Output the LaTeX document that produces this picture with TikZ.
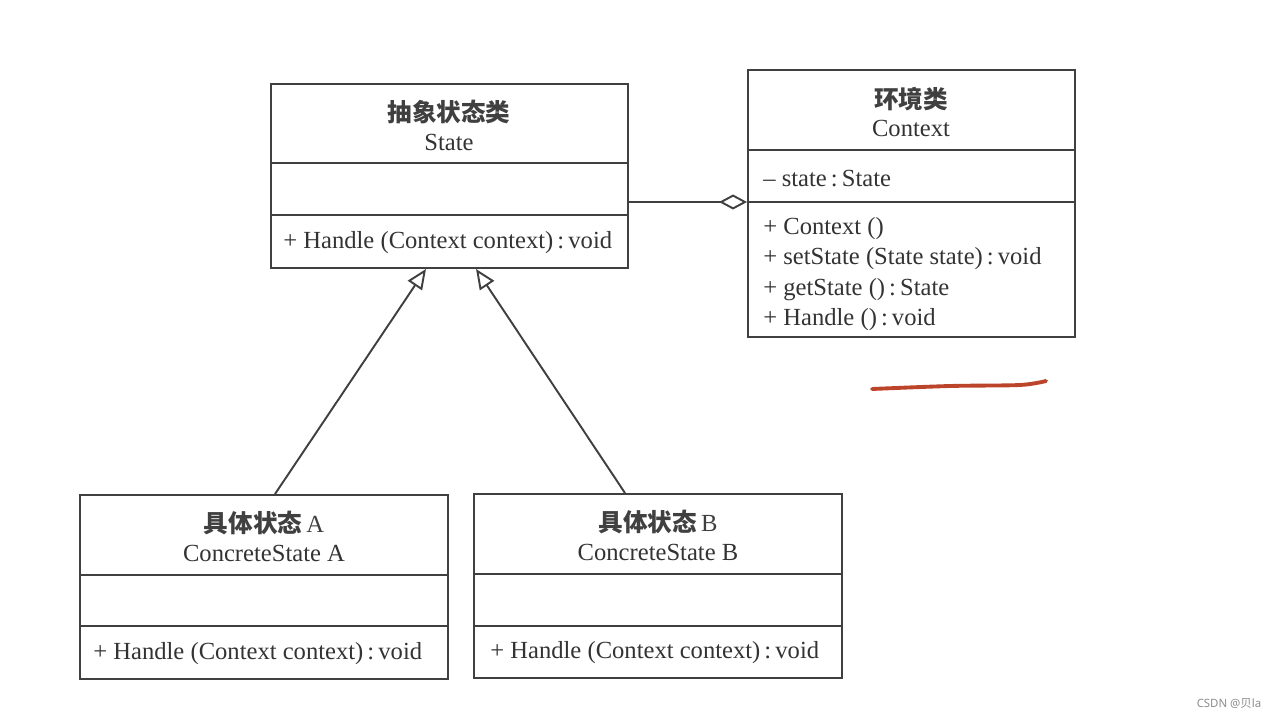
\documentclass[tikz,border=0pt]{standalone}
\usepackage{fontspec}
\setmainfont{Liberation Serif}
\newfontfamily\cjk{Noto Sans CJK SC}
\newfontfamily\marksans{Noto Sans}
\usetikzlibrary{arrows.meta, calc, fit}

\begin{document}
\begin{tikzpicture}[x=0.02cm, y=-0.02cm,
  classbox/.style={draw=black!75, line width=1.1pt, inner sep=0pt},
  divider/.style={draw=black!75, line width=1.1pt},
  cntext/.style={font=\cjk\bfseries\fontsize{14}{16}\selectfont, text=black!75, inner sep=0pt},
  entext/.style={font=\fontsize{14}{17.2}\selectfont, text=black!80, inner sep=0pt},
  link/.style={draw=black!75, line width=1.1pt}]

\useasboundingbox (0,0) rectangle (1275,719);
% Abstract state class
\node [classbox, fit={(271,84) (628,268)}] (state) {};
\draw [divider] (state.west |- 0,163) -- (state.east |- 0,163);
\draw [divider] (state.west |- 0,215) -- (state.east |- 0,215);
\node [cntext] (stateCN) at (449,112) {抽象状态类};
\node [entext] (stateEN) at (449,142) {State};
\node [entext, anchor=west] (stateOp) at (283,243)
  {+ Handle (Context context)\,:\,void};
% Context class
\node [classbox, fit={(748,70) (1075,337)}] (context) {};
\draw [divider] (context.west |- 0,150) -- (context.east |- 0,150);
\draw [divider] (context.west |- 0,202) -- (context.east |- 0,202);
\node [cntext] (contextCN) at (911,99) {环境类};
\node [entext] (contextEN) at (911,128) {Context};
\node [entext, anchor=west] (contextAttr) at (763,179) {-- state\,:\,State};
\node [entext, anchor=west, align=left] (contextOps) at (763,274)
  {+ Context ()\\+ setState (State state)\,:\,void\\
   + getState ()\,:\,State\\+ Handle ()\,:\,void};
% Concrete state A
\node [classbox, fit={(80,495) (448,679)}] (concA) {};
\draw [divider] (concA.west |- 0,575) -- (concA.east |- 0,575);
\draw [divider] (concA.west |- 0,626) -- (concA.east |- 0,626);
\node [cntext] (concACN) at (264,523) {具体状态\,{\normalfont\fontsize{14}{16}\selectfont A}};
\node [entext] (concAEN) at (264,553) {ConcreteState A};
\node [entext, anchor=west] (concAOp) at (93,654)
  {+ Handle (Context context)\,:\,void};
% Concrete state B
\node [classbox, fit={(474,494) (842,678)}] (concB) {};
\draw [divider] (concB.west |- 0,574) -- (concB.east |- 0,574);
\draw [divider] (concB.west |- 0,626) -- (concB.east |- 0,626);
\node [cntext] (concBCN) at (658,522) {具体状态\,{\normalfont\fontsize{14}{16}\selectfont B}};
\node [entext] (concBEN) at (658,552) {ConcreteState B};
\node [entext, anchor=west] (concBOp) at (490,653)
  {+ Handle (Context context)\,:\,void};
% Aggregation: context holds a state
\draw [link, -{Diamond[open, length=0.56cm, width=0.3cm]}]
  (state.east |- 0,202) -- (context.west |- 0,202);
% Generalisation arrows
\draw [link, -{Triangle[open, length=0.4cm, width=0.34cm]}]
  (concA.north -| 275,0) -- (state.south -| 426,0);
\draw [link, -{Triangle[open, length=0.4cm, width=0.34cm]}]
  (concB.north -| 625,0) -- (state.south -| 476,0);
% Red pen stroke
\definecolor{penred}{RGB}{188,68,42}
\draw [penred, line width=2.2pt, line cap=round]
  plot [smooth] coordinates {(872,389) (950,386) (1020,385) (1046,381)};
% Watermark
\node [font=\marksans\fontsize{6.5}{8}\selectfont, text=black!45, inner sep=0pt]
  (mark) at (1229,704) {CSDN @{\cjk 贝}la};
\end{tikzpicture}
\end{document}
